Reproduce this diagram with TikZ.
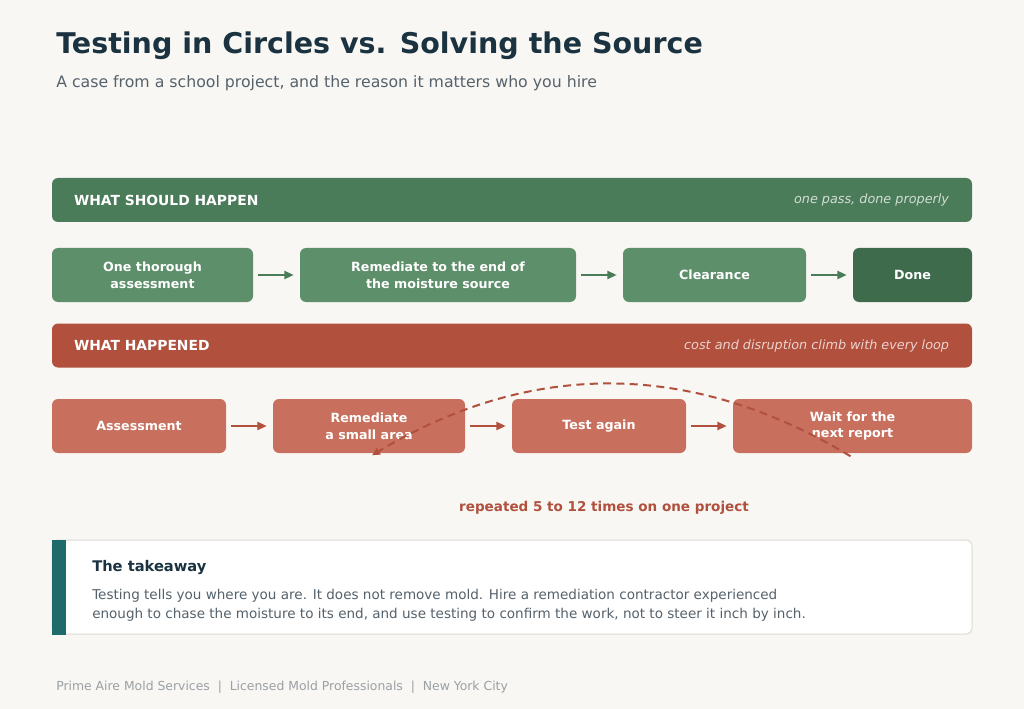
\documentclass[tikz,border=0pt]{standalone}
\usepackage{fontspec}
\setmainfont{DejaVu Sans}
\usetikzlibrary{arrows.meta}
\definecolor{fond}{HTML}{F8F7F4}
\definecolor{encre}{HTML}{1B3340}
\definecolor{gris}{HTML}{56626B}
\definecolor{grisclair}{HTML}{9AA0A4}
\definecolor{vert}{HTML}{4A7C59}
\definecolor{vertclair}{HTML}{5E8F6B}
\definecolor{vertfonce}{HTML}{3E6B4C}
\definecolor{rouge}{HTML}{B0503D}
\definecolor{rougeclair}{HTML}{C8705D}
\definecolor{sarcelle}{HTML}{1F6B6B}
\definecolor{bordure}{HTML}{DDDAD3}
\begin{document}
\begin{tikzpicture}[x=0.75pt,y=-0.75pt]
% Dimensions (1 unite = 1 pixel)
\def\px{0.75pt}
\def\LigneA{275}
\def\LigneB{426}
% Styles
\tikzstyle{fleche}=[-{Triangle[length=7pt,width=6pt]},line width=1.5pt]
\tikzstyle{boucle}=[-{Triangle[length=6pt,width=5.5pt]},line width=1.5pt,dash pattern=on 6pt off 4pt]
\tikzstyle{bandeau}=[rounded corners=4.5pt,minimum width=920*\px,minimum height=44*\px,inner sep=0]
\tikzstyle{titrebandeau}=[anchor=west,text=white,font=\bfseries\fontsize{10.4}{12}\selectfont,inner sep=0]
\tikzstyle{notebandeau}=[anchor=east,font=\itshape\fontsize{9.6}{12}\selectfont,inner sep=0]
\tikzstyle{boite}=[rounded corners=4.5pt,minimum height=54*\px,inner sep=0,text=white,align=center,font=\bfseries\fontsize{9.5}{12.7}\selectfont]
\tikzstyle{texte}=[anchor=base west,inner sep=0]
% Fond
\fill[fond] (0,0) rectangle (1024,709);
% En-tete
\node[texte,text=encre,font=\bfseries\fontsize{21.4}{26}\selectfont] (Titre) at (56,54) {Testing in Circles vs. Solving the Source};
\node[texte,text=gris,font=\fontsize{11.8}{14}\selectfont] (SousTitre) at (56,88) {A case from a school project, and the reason it matters who you hire};
% Bandeau vert
\node[bandeau,fill=vert] (Bv) at (512,200) {};
\node[titrebandeau] (Bvt) at ([xshift=22*\px]Bv.west) {WHAT SHOULD HAPPEN};
\node[notebandeau,text=vert!25!white] (Bvn) at ([xshift=-23*\px]Bv.east) {one pass, done properly};
% Noeuds (ligne verte)
\node[boite,fill=vertclair,minimum width=201*\px] (Ha) at (152.5,\LigneA) {One thorough\\assessment};
\node[boite,fill=vertclair,minimum width=276*\px] (Hb) at (438,\LigneA) {Remediate to the end of\\the moisture source};
\node[boite,fill=vertclair,minimum width=183*\px] (Hc) at (714.5,\LigneA) {Clearance};
\node[boite,fill=vertfonce,minimum width=119*\px] (Hd) at (912.5,\LigneA) {Done};
% Bandeau rouge
\node[bandeau,fill=rouge] (Br) at (512,345.5) {};
\node[titrebandeau] (Brt) at ([xshift=22*\px]Br.west) {WHAT HAPPENED};
\node[notebandeau,text=rouge!25!white] (Brn) at ([xshift=-23*\px]Br.east) {cost and disruption climb with every loop};
% Noeuds (ligne rouge)
\node[boite,fill=rougeclair,minimum width=174*\px] (Ra) at (139,\LigneB) {Assessment};
\node[boite,fill=rougeclair,minimum width=192*\px] (Rb) at (369,\LigneB) {Remediate\\a small area};
\node[boite,fill=rougeclair,minimum width=174*\px] (Rc) at (599,\LigneB) {Test again};
\node[boite,fill=rougeclair,minimum width=239*\px] (Rd) at (852.5,\LigneB) {Wait for the\\next report};
\node[font=\bfseries\fontsize{10.15}{12}\selectfont,text=rouge] (Rep) at (604,507.5) {repeated 5 to 12 times on one project};
% Arcs
\draw[fleche,vert] ([xshift=5*\px]Ha.east) -- ([xshift=-6*\px]Hb.west);
\draw[fleche,vert] ([xshift=5*\px]Hb.east) -- ([xshift=-6*\px]Hc.west);
\draw[fleche,vert] ([xshift=5*\px]Hc.east) -- ([xshift=-6*\px]Hd.west);
\draw[fleche,rouge] ([xshift=5*\px]Ra.east) -- ([xshift=-6*\px]Rb.west);
\draw[fleche,rouge] ([xshift=5*\px]Rb.east) -- ([xshift=-6*\px]Rc.west);
\draw[fleche,rouge] ([xshift=5*\px]Rc.east) -- ([xshift=-6*\px]Rd.west);
\draw[boucle,rouge] ([xshift=-2*\px,yshift=-3*\px]Rd.south) .. controls (691,360) and (531,360) .. ([xshift=3*\px,yshift=-2*\px]Rb.south);
% Encadre final
\node[rounded corners=4.5pt,fill=white,draw=bordure,line width=0.75pt,minimum width=920*\px,minimum height=94*\px,inner sep=0] (Tk) at (512,587) {};
\fill[sarcelle] (Tk.north west) rectangle ([xshift=14*\px]Tk.south west);
\node[texte,text=encre,font=\bfseries\fontsize{11}{13}\selectfont] (TkTitre) at (92,571) {The takeaway};
\node[texte,text=gris,align=left,font=\fontsize{10.15}{14.25}\selectfont] (TkTexte) at (92,618) {Testing tells you where you are. It does not remove mold. Hire a remediation contractor experienced\\enough to chase the moisture to its end, and use testing to confirm the work, not to steer it inch by inch.};
% Pied de page
\node[texte,text=grisclair,font=\fontsize{9.3}{11}\selectfont] (Pied) at (56,690) {Prime Aire Mold Services\ \ \textbar\ \ Licensed Mold Professionals\ \ \textbar\ \ New York City};
\end{tikzpicture}
\end{document}
